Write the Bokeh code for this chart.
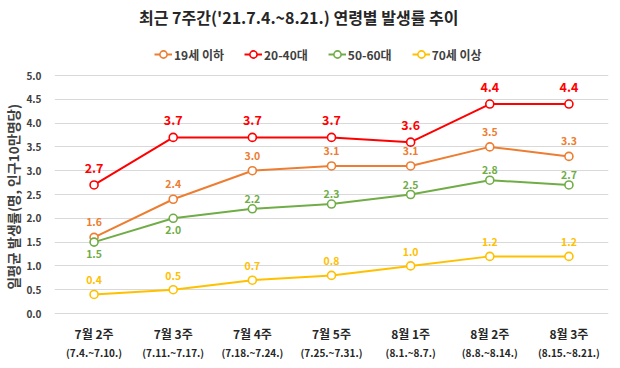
from bokeh.plotting import figure
from bokeh.models import (ColumnDataSource, Legend, LegendItem, Range1d, FactorRange,
                          FixedTicker, PrintfTickFormatter, Label)
from bokeh.embed import file_html
from bokeh.resources import INLINE
from bokeh.core.properties import value

FONT = "Noto Sans CJK KR"

weeks = ["7월 2주", "7월 3주", "7월 4주", "7월 5주", "8월 1주", "8월 2주", "8월 3주"]
week_dates = ["(7.4.~7.10.)", "(7.11.~7.17.)", "(7.18.~7.24.)", "(7.25.~7.31.)",
              "(8.1.~8.7.)", "(8.8.~8.14.)", "(8.15.~8.21.)"]
age_under19 = [1.6, 2.4, 3.0, 3.1, 3.1, 3.5, 3.3]
age_20_40 = [2.7, 3.7, 3.7, 3.7, 3.6, 4.4, 4.4]
age_50_60 = [1.5, 2.0, 2.2, 2.3, 2.5, 2.8, 2.7]
age_70plus = [0.4, 0.5, 0.7, 0.8, 1.0, 1.2, 1.2]
series_names = ["19세 이하", "20-40대", "50-60대", "70세 이상"]
colors = ["#ED7D31", "#FF0000", "#70AD47", "#FFC000"]
y_ticks = [0.0, 0.5, 1.0, 1.5, 2.0, 2.5, 3.0, 3.5, 4.0, 4.5, 5.0]
title_text = "최근  7주간('21.7.4.~8.21.)  연령별  발생률  추이"
y_title = "일평균 발생률(명, 인구10만명당)"
# label placement: True = below the point
below_50_60 = [True, True, False, False, False, False, False]

# layout (pixels)
W, H = 620, 368
LEFT, RIGHT = 52, 12
Y0_PX, Y5_PX = 313, 75          # pixel rows of value 0 and value 5
ppu = (Y0_PX - Y5_PX) / 5.0
y_lo = -(H - Y0_PX) / ppu
y_hi = 5 + Y5_PX / ppu

p = figure(width=W, height=H, x_range=FactorRange(*weeks, range_padding=0),
           y_range=Range1d(y_lo, y_hi), output_backend="svg", toolbar_location=None,
           x_axis_location=None,
           min_border_left=LEFT, min_border_right=RIGHT, min_border_bottom=0, min_border_top=0)
p.outline_line_color = None
p.background_fill_color = "white"

p.yaxis.ticker = FixedTicker(ticks=y_ticks)
p.yaxis.formatter = PrintfTickFormatter(format="%.1f")
p.yaxis.axis_line_color = None
p.yaxis.major_tick_line_color = None
p.yaxis.minor_tick_line_color = None
p.yaxis.major_label_text_font = FONT
p.yaxis.major_label_text_font_size = "10px"
p.yaxis.major_label_text_font_style = "bold"
p.yaxis.major_label_text_color = "#404040"
p.yaxis.major_label_standoff = 7
# trailing no-break spaces shift the rotated title down to match the reference
p.yaxis.axis_label = y_title + "\u00a0" * 8
p.yaxis.axis_label_text_font = FONT
p.yaxis.axis_label_text_font_size = "13.5px"
p.yaxis.axis_label_text_font_style = "bold"
p.yaxis.axis_label_text_color = "#404040"
p.yaxis.axis_label_standoff = 0

p.xgrid.grid_line_color = None
p.ygrid.grid_line_color = "#D9D9D9"
p.ygrid.grid_line_width = 1

# category labels (two lines) under the zero line
lab_src = ColumnDataSource(dict(x=weeks, y=[0] * len(weeks), t1=weeks, t2=week_dates))
p.text("x", "y", text="t1", source=lab_src, text_align="center", text_baseline="middle",
       y_offset=20, text_font=value(FONT), text_font_size="12px", text_font_style="bold",
       text_color="#262626")
p.text("x", "y", text="t2", source=lab_src, text_align="center", text_baseline="middle",
       y_offset=39, text_font=value(FONT), text_font_size="10px", text_font_style="bold",
       text_color="#262626")

label_offsets = [-15, -17, -10, -14]
label_sizes = ["10.5px", "12.5px", "10.5px", "10.5px"]
all_series = [age_under19, age_20_40, age_50_60, age_70plus]
items = []
for idx, (name, vals, col) in enumerate(zip(series_names, all_series, colors)):
    below = below_50_60 if idx == 2 else [False] * len(vals)
    up_src = ColumnDataSource(dict(x=[w for w, b in zip(weeks, below) if not b],
                                   y=[v for v, b in zip(vals, below) if not b],
                                   lab=[f"{v:.1f}" for v, b in zip(vals, below) if not b]))
    dn_src = ColumnDataSource(dict(x=[w for w, b in zip(weeks, below) if b],
                                   y=[v for v, b in zip(vals, below) if b],
                                   lab=[f"{v:.1f}" for v, b in zip(vals, below) if b]))
    src = ColumnDataSource(dict(x=weeks, y=vals))
    r1 = p.line("x", "y", source=src, line_color=col, line_width=2)
    r2 = p.scatter("x", "y", source=src, marker="circle", size=8, fill_color="white",
                   line_color=col, line_width=1.6)
    p.text("x", "y", text="lab", source=up_src, text_color=col, text_align="center",
           text_baseline="middle", y_offset=label_offsets[idx], text_font=value(FONT),
           text_font_size=label_sizes[idx], text_font_style="bold")
    p.text("x", "y", text="lab", source=dn_src, text_color=col, text_align="center",
           text_baseline="middle", y_offset=12, text_font=value(FONT),
           text_font_size=label_sizes[idx], text_font_style="bold")
    items.append(LegendItem(label=name, renderers=[r1, r2]))

legend = Legend(items=items, orientation="horizontal", location=(100, 304),
                label_text_font=FONT, label_text_font_size="12px", label_text_font_style="bold",
                label_text_color="#404040", border_line_color=None, background_fill_alpha=0,
                glyph_width=18, spacing=20, padding=4, margin=0, label_standoff=2)
p.add_layout(legend, "center")

p.add_layout(Label(x=251.5, y=H - 16, x_units="screen", y_units="screen", text=title_text,
                   text_align="center", text_baseline="middle", text_font=FONT,
                   text_font_size="16px", text_font_style="bold", text_color="#262626"))

with open("out.html", "w") as f:
    f.write(file_html(p, INLINE))
